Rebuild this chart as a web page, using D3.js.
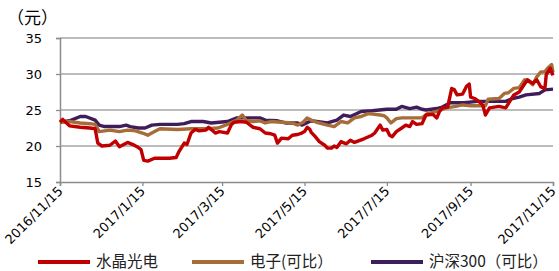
<!DOCTYPE html>
<html><head><meta charset="utf-8">
<script src="https://cdn.jsdelivr.net/npm/d3@7"></script>
<style>body{margin:0;background:#fff;}svg{display:block;}</style>
</head><body><div id="chart"></div>
<script>
const seriesNames = ["水晶光电", "电子(可比）", "沪深300（可比）"];
const seriesColors = ["#C00000", "#A66D38", "#3F1D5A"];
const yTicks = [15, 20, 25, 30, 35];
const xTickLabels = ["2016/11/15","2017/1/15","2017/3/15","2017/5/15","2017/7/15","2017/9/15","2017/11/15"];

const redDates = ["2016-11-15","2016-11-17","2016-11-22","2016-11-30","2016-12-07","2016-12-11","2016-12-13","2016-12-16","2016-12-22","2016-12-26","2016-12-29","2017-01-04","2017-01-08","2017-01-11","2017-01-14","2017-01-16","2017-01-19","2017-01-24","2017-02-04","2017-02-09","2017-02-11","2017-02-15","2017-02-17","2017-02-20","2017-02-23","2017-02-26","2017-03-03","2017-03-05","2017-03-10","2017-03-13","2017-03-19","2017-03-22","2017-03-24","2017-03-29","2017-04-02","2017-04-07","2017-04-12","2017-04-16","2017-04-20","2017-04-23","2017-04-25","2017-04-28","2017-05-03","2017-05-06","2017-05-10","2017-05-13","2017-05-15","2017-05-17","2017-05-19","2017-05-20","2017-05-23","2017-05-26","2017-05-30","2017-06-01","2017-06-04","2017-06-06","2017-06-08","2017-06-11","2017-06-15","2017-06-18","2017-06-21","2017-06-28","2017-07-04","2017-07-06","2017-07-10","2017-07-12","2017-07-15","2017-07-17","2017-07-19","2017-07-22","2017-07-26","2017-07-29","2017-08-01","2017-08-03","2017-08-06","2017-08-10","2017-08-13","2017-08-18","2017-08-21","2017-08-23","2017-08-25","2017-08-29","2017-09-01","2017-09-03","2017-09-05","2017-09-09","2017-09-12","2017-09-14","2017-09-15","2017-09-18","2017-09-21","2017-09-24","2017-09-26","2017-09-29","2017-10-06","2017-10-11","2017-10-14","2017-10-17","2017-10-21","2017-10-27","2017-10-31","2017-11-03","2017-11-06","2017-11-09","2017-11-10","2017-11-13","2017-11-15"];
const redValues = [23.3,23.7,22.8,22.6,22.5,22.4,20.4,20.0,20.1,20.7,19.9,20.5,20.2,19.9,19.5,18.0,17.9,18.3,18.3,18.4,19.2,20.4,20.2,21.8,22.3,22.1,22.2,22.6,21.8,22.0,21.8,23.0,23.3,23.4,23.3,22.6,22.4,21.8,21.7,21.5,20.4,21.1,21.0,21.5,21.6,21.8,22.0,22.6,22.3,21.9,21.3,20.6,20.1,19.7,19.7,20.0,19.8,20.6,20.3,20.8,20.5,21.0,21.5,21.8,22.9,22.2,22.3,21.5,21.3,22.0,22.5,22.9,22.7,23.4,23.0,23.1,24.3,24.4,23.9,24.8,25.3,25.4,28.0,27.8,27.1,27.2,28.3,28.6,26.8,26.6,26.2,25.7,24.3,25.3,25.5,25.3,26.2,27.1,27.5,29.2,28.7,29.2,28.2,28.0,29.9,30.8,29.8];

const brownDates = ["2016-11-15","2016-11-22","2016-11-30","2016-12-07","2016-12-11","2016-12-14","2016-12-22","2016-12-29","2017-01-04","2017-01-10","2017-01-15","2017-01-19","2017-01-24","2017-01-28","2017-02-10","2017-02-20","2017-03-04","2017-03-12","2017-03-19","2017-03-26","2017-03-30","2017-04-02","2017-04-07","2017-04-12","2017-04-16","2017-04-20","2017-04-28","2017-05-06","2017-05-10","2017-05-14","2017-05-17","2017-05-20","2017-05-24","2017-06-01","2017-06-06","2017-06-11","2017-06-16","2017-06-21","2017-06-26","2017-07-01","2017-07-06","2017-07-10","2017-07-13","2017-07-15","2017-07-18","2017-07-22","2017-07-26","2017-08-01","2017-08-06","2017-08-10","2017-08-14","2017-08-21","2017-08-28","2017-09-04","2017-09-09","2017-09-14","2017-09-21","2017-09-26","2017-09-28","2017-10-06","2017-10-10","2017-10-13","2017-10-17","2017-10-21","2017-10-25","2017-10-28","2017-10-31","2017-11-03","2017-11-06","2017-11-09","2017-11-11","2017-11-14","2017-11-15"];
const brownValues = [23.3,23.4,23.2,23.1,23.0,22.0,22.2,22.0,22.2,22.1,21.8,21.5,22.0,22.4,22.3,22.4,22.4,22.5,23.0,23.6,24.3,23.5,23.4,23.5,23.2,23.4,23.3,23.2,22.9,23.3,23.9,23.6,23.3,22.9,22.7,23.4,23.2,23.9,24.1,24.5,24.4,24.3,24.2,23.9,23.2,23.8,23.9,23.9,23.9,23.9,24.5,24.8,25.3,25.5,25.7,25.6,25.6,25.6,26.5,26.6,27.3,27.4,28.0,28.1,29.2,29.0,28.5,29.6,30.3,30.3,30.8,31.3,30.2];

const purpleDates = ["2016-11-15","2016-11-22","2016-11-30","2016-12-04","2016-12-11","2016-12-14","2016-12-18","2016-12-29","2017-01-03","2017-01-06","2017-01-12","2017-01-17","2017-01-22","2017-01-28","2017-02-10","2017-02-15","2017-02-20","2017-03-01","2017-03-07","2017-03-19","2017-03-26","2017-04-12","2017-04-16","2017-04-25","2017-05-01","2017-05-10","2017-05-13","2017-05-20","2017-06-01","2017-06-08","2017-06-13","2017-06-18","2017-06-26","2017-07-04","2017-07-15","2017-07-22","2017-07-26","2017-08-01","2017-08-06","2017-08-10","2017-08-13","2017-08-21","2017-08-25","2017-08-31","2017-09-10","2017-09-20","2017-10-11","2017-10-16","2017-10-21","2017-10-26","2017-11-05","2017-11-09","2017-11-15"];
const purpleValues = [23.3,23.5,24.1,24.1,23.6,22.9,22.7,22.7,22.9,22.7,22.5,22.5,22.9,23.0,23.0,23.1,23.4,23.4,23.2,23.4,23.9,23.9,23.6,23.5,23.2,23.2,22.9,23.5,23.2,23.6,24.3,24.1,24.8,24.9,25.1,25.1,25.5,25.2,25.4,25.1,25.0,25.2,25.4,26.0,26.0,26.2,26.2,26.6,26.8,27.1,27.3,27.8,27.9];

const W = 559, H = 271;
const m = {left: 60, right: 6, top: 38, bottom: 89};
const parse = d3.timeParse("%Y-%m-%d");
const svg = d3.select("#chart").append("svg").attr("width", W).attr("height", H);

const x = d3.scaleTime().domain([parse("2016-11-15"), parse("2017-11-15")]).range([m.left, W - m.right]);
const y = d3.scaleLinear().domain([15, 35]).range([H - m.bottom, m.top]);

// grid
svg.append("g").selectAll("line").data(yTicks.filter(v => v > 15)).join("line")
  .attr("x1", m.left).attr("x2", W - m.right)
  .attr("y1", d => y(d)).attr("y2", d => y(d))
  .attr("stroke", "#A6A6A6").attr("stroke-width", 1.3);

// y axis
const yAxis = d3.axisLeft(y).tickValues(yTicks).tickSize(4).tickPadding(14);
const gy = svg.append("g").attr("transform", `translate(${m.left},0)`).call(yAxis);
gy.select(".domain").attr("stroke", "#8C8C8C").attr("stroke-width", 1.5);
gy.selectAll(".tick line").attr("stroke", "#8C8C8C").attr("stroke-width", 1.3);
gy.selectAll("text").attr("font-family", "DejaVu Sans, sans-serif").attr("font-size", 13).attr("fill", "#000");

// x axis
const xTickDates = xTickLabels.map(s => d3.timeParse("%Y/%m/%d")(s));
const xAxis = d3.axisBottom(x).tickValues(xTickDates).tickSize(4).tickFormat((d, i) => xTickLabels[i]);
const gx = svg.append("g").attr("transform", `translate(0,${H - m.bottom})`).call(xAxis);
gx.select(".domain").attr("stroke", "#8C8C8C").attr("stroke-width", 1.5);
gx.selectAll(".tick line").attr("stroke", "#8C8C8C").attr("stroke-width", 1.3);
gx.selectAll("text")
  .attr("font-family", "DejaVu Sans, sans-serif").attr("font-size", 13).attr("fill", "#000")
  .attr("text-anchor", "end").attr("dy", 0).attr("y", 0)
  .attr("transform", "translate(3,10) rotate(-45)");

// unit label
svg.append("text").attr("x", 7).attr("y", 24).text("（元）")
  .attr("font-family", "Noto Sans CJK SC, sans-serif").attr("font-size", 17).attr("fill", "#000");

// lines
const dataSets = [
  redDates.map((d, i) => ({date: parse(d), v: redValues[i]})),
  brownDates.map((d, i) => ({date: parse(d), v: brownValues[i]})),
  purpleDates.map((d, i) => ({date: parse(d), v: purpleValues[i]}))
];
const line = d3.line().x(d => x(d.date)).y(d => y(d.v));
[2, 1, 0].forEach(i => {
  svg.append("path").datum(dataSets[i]).attr("d", line)
    .attr("fill", "none").attr("stroke", seriesColors[i]).attr("stroke-width", 3.4)
    .attr("stroke-linejoin", "round");
});

// legend
const legendX = [38, 192, 371];
const lg = svg.append("g");
seriesNames.forEach((name, i) => {
  lg.append("line").attr("x1", legendX[i]).attr("x2", legendX[i] + 52)
    .attr("y1", 262).attr("y2", 262).attr("stroke", seriesColors[i]).attr("stroke-width", 4);
  lg.append("text").attr("x", legendX[i] + 58).attr("y", 261).attr("dy", "0.36em").text(name)
    .attr("font-family", "Noto Sans CJK SC, sans-serif").attr("font-size", 15.5).attr("fill", "#222");
});
</script></body></html>
